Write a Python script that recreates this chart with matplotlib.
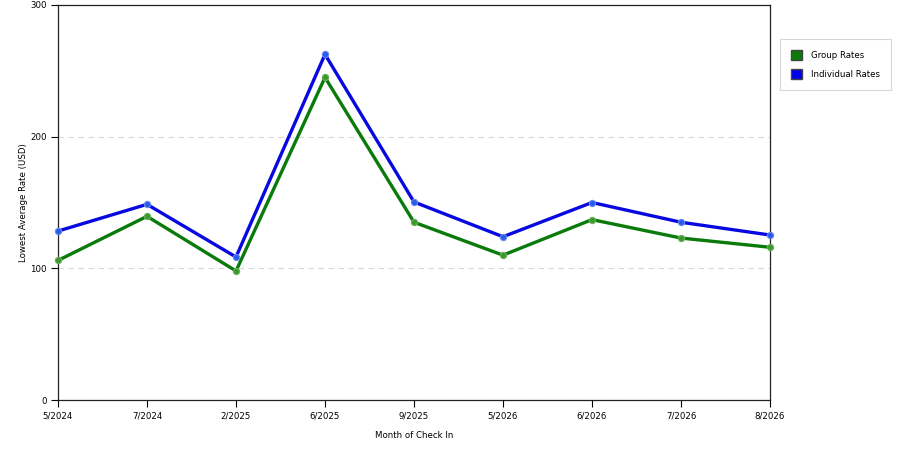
import matplotlib
matplotlib.use("Agg")
import matplotlib.pyplot as plt
from matplotlib.patches import Patch

months = ['5/2024', '7/2024', '2/2025', '6/2025', '9/2025', '5/2026', '6/2026', '7/2026', '8/2026']
group_rates = [106, 139.5, 98, 245, 135, 110, 137, 123, 116]
individual_rates = [128.3, 148.6, 108.6, 262.5, 150.4, 124, 150, 135, 125.3]

plt.rcParams['font.family'] = ['DejaVu Sans']
plt.rcParams['font.size'] = 6.2

fig = plt.figure(figsize=(9, 4.5), dpi=100)
ax = fig.add_axes([58 / 900, 1 - 400 / 450, (770 - 58) / 900, 395 / 450])

x = list(range(len(months)))
ax.plot(x, group_rates, color='#0a7a0a', lw=2.4, marker='o', ms=4.5,
        mfc='#3c9a2c', mec='#6ab05a', mew=0.8, zorder=3, clip_on=False)
ax.plot(x, individual_rates, color='#0808e0', lw=2.4, marker='o', ms=4.5,
        mfc='#2a5ae8', mec='#6a8af0', mew=0.8, zorder=3, clip_on=False)

ax.set_xlim(0, len(months) - 1)
ax.set_ylim(0, 300)
ax.set_xticks(x)
ax.set_xticklabels(months)
ax.set_yticks([0, 100, 200, 300])
ax.yaxis.grid(True, linestyle=(0, (5, 4)), color='#d8d8d8', lw=0.8)
ax.set_axisbelow(True)
ax.tick_params(direction='out', length=5, width=0.8, colors='black', pad=3, labelsize=6.2)
for s in ax.spines.values():
    s.set_color('#222222')
    s.set_linewidth(0.9)

ax.set_xlabel('Month of Check In', fontsize=6.2, labelpad=8)
ax.set_ylabel('Lowest Average Rate (USD)', fontsize=6.2, labelpad=2)

handles = [Patch(facecolor='#0a7a0a', edgecolor='#444444', label='Group Rates'),
           Patch(facecolor='#0000f0', edgecolor='#444444', label='Individual Rates')]
leg = fig.legend(handles=handles, loc='upper left', bbox_to_anchor=(780 / 900, 1 - 39 / 450),
                 frameon=True, fancybox=False, fontsize=6.2, handlelength=1.3, handleheight=1.3,
                 borderpad=1.3, labelspacing=1.1, handletextpad=1.0, borderaxespad=0)
leg.get_frame().set_edgecolor('#cccccc')
leg.get_frame().set_linewidth(0.8)

fig.savefig('out.png', dpi=100)
